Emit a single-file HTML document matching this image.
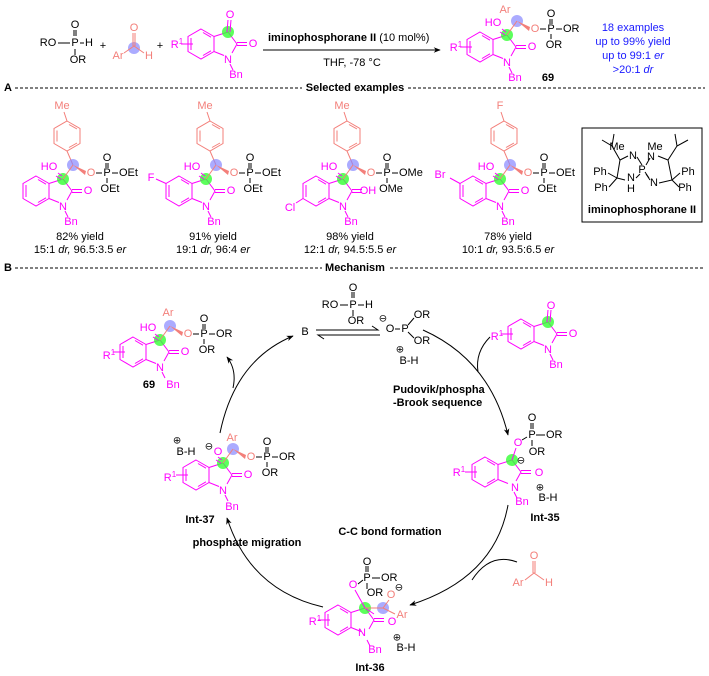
<!DOCTYPE html>
<html><head><meta charset="utf-8"><style>
body{margin:0;background:#fff}
svg{display:block;font-family:"Liberation Sans",sans-serif;font-size:11px}
.k{fill:#000}.m{fill:#f0f}.s{fill:#f37f7a}.bl{fill:#1a1aff}
text{dominant-baseline:central}
.b{font-weight:bold}
.ml{stroke:#f0f;fill:none;stroke-width:1}
.sl{stroke:#f37f7a;fill:none;stroke-width:1}
.kl{stroke:#000;fill:none;stroke-width:1}
</style></head><body>
<svg width="709" height="676" viewBox="0 0 709 676">
<defs>
<marker id="ah" viewBox="0 0 10 10" refX="9" refY="5" markerWidth="7" markerHeight="7" orient="auto"><path d="M0,1 L10,5 L0,9 L3,5 Z" fill="#000"/></marker>
<g id="ox">
<path class="ml" d="M0,-15 L13,-7.5 L13,7.5 L0,15 L-13,7.5 L-13,-7.5 Z M-10,-6 L-10,6 M2,-11.5 L10,-6.8 M10,6.8 L2,11.5 M13,-7.5 L27,-12 L36,0 L31,9 M23,11.5 L13,7.5 M36,-1.5 L46,-1.5 M36,1.5 L46,1.5 M29,20 L32,26"/>
</g>
<g id="ar">
<path class="sl" d="M31,-70 L44,-62.5 L44,-47.5 L31,-40 L18,-47.5 L18,-62.5 Z M21,-60.5 L21,-49.5 M33,-66.5 L41,-62 M41,-48 L33,-43.5 M31,-40 L37,-26 M31,-70 L28,-79"/>
</g>
<g id="phos">
<circle cx="27" cy="-12" r="6" fill="#3f3" opacity=".8"/>
<circle cx="37" cy="-26" r="6" fill="#88f" opacity=".7"/>
<path class="kl" d="M60,-18 L66,-18 M76,-18 L82,-18 M70,-28 L70,-23 M72,-28 L72,-23 M71,-13 L71,-8"/>
<path class="sl" d="M27,-12 L37,-26"/>
<polygon points="37,-26 50,-20 49,-16" fill="#f37f7a"/>
<path class="ml" d="M26,-15 L22,-18 M25,-12 L20,-15" />
</g>
</defs>

<!-- TOP REACTION -->
<g>
<text class="k" x="48" y="43" text-anchor="middle">RO</text>
<path class="kl" d="M58,43 L70,43 M80,43 L84,43 M74,30 L74,36 M76,30 L76,36 M75,49 L75,55"/>
<text class="k" x="75" y="43" text-anchor="middle">P</text>
<text class="k" x="89" y="43" text-anchor="middle">H</text>
<text class="k" x="75" y="25" text-anchor="middle">O</text>
<text class="k" x="78" y="60" text-anchor="middle">OR</text>
<text class="k" x="103" y="46" text-anchor="middle">+</text>
<circle cx="134" cy="48" r="6" fill="#88f" opacity=".7"/>
<path class="sl" d="M124,53 L134,46 L144,53 M133,46 L133,33 M135,46 L135,33"/>
<text class="s" x="118" y="56" text-anchor="middle">Ar</text>
<text class="s" x="134" y="28" text-anchor="middle">O</text>
<text class="s" x="149" y="56" text-anchor="middle">H</text>
<text class="k" x="160" y="46" text-anchor="middle">+</text>
<g transform="translate(201,44)">
<use href="#ox"/>
<circle cx="27" cy="-12" r="6" fill="#3f3" opacity=".8"/>
<path class="ml" d="M26,-12 L27,-24 M29,-12 L30,-24 M-20,0 L-8,0"/>
<text class="m" x="29" y="-29" text-anchor="middle">O</text>
<text class="m" x="52" y="0" text-anchor="middle">O</text>
<text class="m" x="27" y="16" text-anchor="middle">N</text>
<text class="m" x="35" y="31" text-anchor="middle">Bn</text>
<text class="m" x="-24" y="1" text-anchor="middle">R<tspan font-size="8" dy="-4">1</tspan></text>
</g>
<line x1="263" y1="50" x2="440" y2="50" stroke="#000" marker-end="url(#ah)"/>
<text x="268" y="38" class="k"><tspan class="b">iminophosphorane II</tspan> (10 mol%)</text>
<text x="352" y="63" class="k" text-anchor="middle">THF, -78 °C</text>
<g transform="translate(480,47)">
<use href="#ox"/><use href="#phos"/>
<path class="ml" d="M-20,0 L-8,0"/>
<text class="m" x="52" y="0" text-anchor="middle">O</text>
<text class="m" x="27" y="16" text-anchor="middle">N</text>
<text class="m" x="35" y="31" text-anchor="middle">Bn</text>
<text class="m" x="-24" y="1" text-anchor="middle">R<tspan font-size="8" dy="-4">1</tspan></text>
<text class="m" x="13" y="-24" text-anchor="middle">HO</text>
<text class="s" x="25" y="-37" text-anchor="middle">Ar</text>
<text class="s" x="55" y="-18" text-anchor="middle">O</text>
<text class="k" x="71" y="-18" text-anchor="middle">P</text>
<text class="k" x="71" y="-33" text-anchor="middle">O</text>
<text class="k" x="83" y="-18">OR</text>
<text class="k" x="74" y="-2" text-anchor="middle">OR</text>
<text class="k b" x="68" y="31" text-anchor="middle">69</text>
</g>
<text class="bl" x="633" y="28" text-anchor="middle">18 examples</text>
<text class="bl" x="633" y="42" text-anchor="middle">up to 99% yield</text>
<text class="bl" x="633" y="56" text-anchor="middle">up to 99:1 <tspan font-style="italic">er</tspan></text>
<text class="bl" x="633" y="70" text-anchor="middle">&gt;20:1 <tspan font-style="italic">dr</tspan></text>
</g>

<!-- SECTION A -->
<text class="k b" x="4" y="88">A</text>
<line x1="15" y1="88" x2="302" y2="88" stroke="#000" stroke-dasharray="3,2"/>
<text class="k b" x="355" y="88" text-anchor="middle">Selected examples</text>
<line x1="408" y1="88" x2="705" y2="88" stroke="#000" stroke-dasharray="3,2"/>

<g transform="translate(36,191)">
<use href="#ox"/><use href="#ar"/><use href="#phos"/>
<text class="s" x="26" y="-85" text-anchor="middle">Me</text>
<text class="m" x="52" y="0" text-anchor="middle">O</text><text class="m" x="27" y="16" text-anchor="middle">N</text><text class="m" x="35" y="31" text-anchor="middle">Bn</text>
<text class="m" x="13" y="-24" text-anchor="middle">HO</text>
<text class="s" x="55" y="-18" text-anchor="middle">O</text><text class="k" x="71" y="-18" text-anchor="middle">P</text><text class="k" x="71" y="-33" text-anchor="middle">O</text>
<text class="k" x="83" y="-18">OEt</text><text class="k" x="74" y="-2" text-anchor="middle">OEt</text>
</g>
<text class="k" x="80" y="237" text-anchor="middle">82% yield</text>
<text class="k" x="80" y="250" text-anchor="middle">15:1 <tspan font-style="italic">dr,</tspan> 96.5:3.5 <tspan font-style="italic">er</tspan></text>

<g transform="translate(179,191)">
<use href="#ox"/><use href="#ar"/><use href="#phos"/>
<path class="ml" d="M-13,-7.5 L-23,-12"/>
<text class="m" x="-28" y="-13" text-anchor="middle">F</text>
<text class="s" x="26" y="-85" text-anchor="middle">Me</text>
<text class="m" x="52" y="0" text-anchor="middle">O</text><text class="m" x="27" y="16" text-anchor="middle">N</text><text class="m" x="35" y="31" text-anchor="middle">Bn</text>
<text class="m" x="13" y="-24" text-anchor="middle">HO</text>
<text class="s" x="55" y="-18" text-anchor="middle">O</text><text class="k" x="71" y="-18" text-anchor="middle">P</text><text class="k" x="71" y="-33" text-anchor="middle">O</text>
<text class="k" x="83" y="-18">OEt</text><text class="k" x="74" y="-2" text-anchor="middle">OEt</text>
</g>
<text class="k" x="213" y="237" text-anchor="middle">91% yield</text>
<text class="k" x="213" y="250" text-anchor="middle">19:1 <tspan font-style="italic">dr,</tspan> 96:4 <tspan font-style="italic">er</tspan></text>

<g transform="translate(316,191)">
<use href="#ox"/><use href="#ar"/><use href="#phos"/>
<path class="ml" d="M-13,7.5 L-20,12"/>
<text class="m" x="-26" y="17" text-anchor="middle">Cl</text>
<text class="s" x="26" y="-85" text-anchor="middle">Me</text>
<text class="m" x="52" y="0" text-anchor="middle">OH</text><text class="m" x="27" y="16" text-anchor="middle">N</text><text class="m" x="35" y="31" text-anchor="middle">Bn</text>
<text class="m" x="13" y="-24" text-anchor="middle">HO</text>
<text class="s" x="55" y="-18" text-anchor="middle">O</text><text class="k" x="71" y="-18" text-anchor="middle">P</text><text class="k" x="71" y="-33" text-anchor="middle">O</text>
<text class="k" x="83" y="-18">OMe</text><text class="k" x="75" y="-2" text-anchor="middle">OMe</text>
</g>
<text class="k" x="350" y="237" text-anchor="middle">98% yield</text>
<text class="k" x="350" y="250" text-anchor="middle">12:1 <tspan font-style="italic">dr,</tspan> 94.5:5.5 <tspan font-style="italic">er</tspan></text>

<g transform="translate(473,191)">
<use href="#ox"/><use href="#ar"/><use href="#phos"/>
<path class="ml" d="M-13,-7.5 L-23,-13"/>
<text class="m" x="-33" y="-16" text-anchor="middle">Br</text>
<text class="s" x="27" y="-85" text-anchor="middle">F</text>
<text class="m" x="52" y="0" text-anchor="middle">O</text><text class="m" x="27" y="16" text-anchor="middle">N</text><text class="m" x="35" y="31" text-anchor="middle">Bn</text>
<text class="m" x="13" y="-24" text-anchor="middle">HO</text>
<text class="s" x="55" y="-18" text-anchor="middle">O</text><text class="k" x="71" y="-18" text-anchor="middle">P</text><text class="k" x="71" y="-33" text-anchor="middle">O</text>
<text class="k" x="83" y="-18">OEt</text><text class="k" x="74" y="-2" text-anchor="middle">OEt</text>
</g>
<text class="k" x="508" y="237" text-anchor="middle">78% yield</text>
<text class="k" x="508" y="250" text-anchor="middle">10:1 <tspan font-style="italic">dr,</tspan> 93.5:6.5 <tspan font-style="italic">er</tspan></text>

<!-- catalyst box -->
<rect x="582" y="128" width="120" height="94" fill="none" stroke="#000"/>
<path class="kl" d="M620,160 L628,156 M637,157 L642,165 M646,165 L650,158 M658,156 L668,160 M620,160 L612,146 L602,140 M612,146 L614,134 M668,160 L677,146 L688,140 M677,146 L675,134 M620,160 L617,178 L625,180 M617,178 L608,173 M617,178 L609,187 M636,178 L640,174 M646,174 L650,180 M645,172 L649,178 M659,183 L672,180 L668,160 M672,180 L680,173 M672,180 L679,187"/>
<text class="k" x="617" y="147" text-anchor="middle">Me</text>
<text class="k" x="655" y="147" text-anchor="middle">Me</text>
<text class="k" x="633" y="156" text-anchor="middle">N</text>
<text class="k" x="651" y="157" text-anchor="middle">N</text>
<text class="k" x="642" y="170" text-anchor="middle">P</text>
<text class="k" x="631" y="178" text-anchor="middle">N</text>
<text class="k" x="631" y="189" text-anchor="middle">H</text>
<text class="k" x="654" y="183" text-anchor="middle">N</text>
<text class="k" x="600" y="172" text-anchor="middle">Ph</text>
<text class="k" x="601" y="188" text-anchor="middle">Ph</text>
<text class="k" x="688" y="172" text-anchor="middle">Ph</text>
<text class="k" x="685" y="188" text-anchor="middle">Ph</text>
<text class="k b" x="642" y="210" text-anchor="middle">iminophosphorane II</text>

<!-- SECTION B -->
<text class="k b" x="4" y="268">B</text>
<line x1="15" y1="268" x2="322" y2="268" stroke="#000" stroke-dasharray="3,2"/>
<text class="k b" x="355" y="268" text-anchor="middle">Mechanism</text>
<line x1="390" y1="268" x2="705" y2="268" stroke="#000" stroke-dasharray="3,2"/>

<!-- 69 mech -->
<g transform="translate(133,352)">
<use href="#ox"/><use href="#phos"/>
<path class="ml" d="M-20,0 L-8,0"/>
<text class="m" x="52" y="0" text-anchor="middle">O</text><text class="m" x="27" y="16" text-anchor="middle">N</text><text class="m" x="40" y="33" text-anchor="middle">Bn</text>
<text class="m" x="-24" y="4" text-anchor="middle">R<tspan font-size="8" dy="-4">1</tspan></text>
<text class="m" x="15" y="-24" text-anchor="middle">HO</text>
<text class="s" x="35" y="-39" text-anchor="middle">Ar</text>
<text class="s" x="55" y="-18" text-anchor="middle">O</text><text class="k" x="71" y="-18" text-anchor="middle">P</text><text class="k" x="71" y="-33" text-anchor="middle">O</text>
<text class="k" x="83" y="-18">OR</text><text class="k" x="74" y="-2" text-anchor="middle">OR</text>
<text class="k b" x="16" y="33" text-anchor="middle">69</text>
</g>

<!-- B equilibrium -->
<text class="k" x="305" y="332" text-anchor="middle">B</text>
<path class="kl" d="M316,330 L378,330 L372,326 M380,335 L318,335 L324,339"/>
<text class="k" x="330" y="305" text-anchor="middle">RO</text>
<path class="kl" d="M340,305 L348,305 M358,305 L364,305 M352,292 L352,298 M354,292 L354,298 M353,310 L353,316"/>
<text class="k" x="353" y="305" text-anchor="middle">P</text>
<text class="k" x="369" y="305" text-anchor="middle">H</text>
<text class="k" x="353" y="288" text-anchor="middle">O</text>
<text class="k" x="356" y="321" text-anchor="middle">OR</text>
<text class="k" x="383" y="319" text-anchor="middle" font-size="10">⊖</text>
<text class="k" x="390" y="329" text-anchor="middle">O</text>
<path class="kl" d="M395,329 L400,329 M408,325 L414,318 M408,332 L414,338"/>
<text class="k" x="405" y="329" text-anchor="middle">P</text>
<text class="k" x="422" y="315" text-anchor="middle">OR</text>
<text class="k" x="422" y="341" text-anchor="middle">OR</text>
<text class="k" x="400" y="350" text-anchor="middle" font-size="10">⊕</text>
<text class="k" x="409" y="361" text-anchor="middle">B-H</text>
<text class="k b" x="393" y="390">Pudovik/phospha</text>
<text class="k b" x="393" y="403">-Brook sequence</text>

<!-- isatin mech -->
<g transform="translate(521,334)">
<use href="#ox"/>
<circle cx="27" cy="-12" r="6" fill="#3f3" opacity=".8"/>
<path class="ml" d="M26,-12 L27,-24 M29,-12 L30,-24 M-20,0 L-8,0"/>
<text class="m" x="30" y="-28" text-anchor="middle">O</text>
<text class="m" x="52" y="0" text-anchor="middle">O</text>
<text class="m" x="27" y="16" text-anchor="middle">N</text>
<text class="m" x="35" y="31" text-anchor="middle">Bn</text>
<text class="m" x="-24" y="3" text-anchor="middle">R<tspan font-size="8" dy="-4">1</tspan></text>
</g>

<!-- Int-35 -->
<g transform="translate(485,472)">
<use href="#ox"/>
<circle cx="27" cy="-12" r="6" fill="#3f3" opacity=".8"/>
<path class="ml" d="M-20,0 L-8,0 M27,-12 L31,-24"/>
<path class="kl" d="M37,-32 L42,-35 M51,-37 L60,-37 M46,-49 L46,-43 M48,-49 L48,-43 M47,-32 L47,-26"/>
<text class="m" x="33" y="-29" text-anchor="middle">O</text>
<text class="k" x="47" y="-37" text-anchor="middle">P</text>
<text class="k" x="47" y="-54" text-anchor="middle">O</text>
<text class="k" x="61" y="-37">OR</text>
<text class="k" x="52" y="-20" text-anchor="middle">OR</text>
<text class="k" x="36" y="-11" text-anchor="middle" font-size="10">⊖</text>
<text class="m" x="54" y="1" text-anchor="middle">O</text>
<text class="m" x="30" y="16" text-anchor="middle">N</text>
<text class="m" x="37" y="30" text-anchor="middle">Bn</text>
<text class="m" x="-26" y="1" text-anchor="middle">R<tspan font-size="8" dy="-4">1</tspan></text>
<text class="k" x="55" y="16" text-anchor="middle" font-size="10">⊕</text>
<text class="k" x="63" y="26" text-anchor="middle">B-H</text>
<text class="k b" x="60" y="46" text-anchor="middle">Int-35</text>
</g>

<!-- aldehyde -->
<path class="sl" d="M525,580 L534,573 L544,580 M533,573 L533,561 M535,573 L535,561"/>
<text class="s" x="518" y="583" text-anchor="middle">Ar</text>
<text class="s" x="534" y="556" text-anchor="middle">O</text>
<text class="s" x="549" y="583" text-anchor="middle">H</text>
<text class="k b" x="390" y="532" text-anchor="middle">C-C bond formation</text>
<text class="k b" x="247" y="543" text-anchor="middle">phosphate migration</text>

<!-- Int-36 -->
<g transform="translate(338,620)">
<use href="#ox"/>
<circle cx="27" cy="-12" r="6" fill="#3f3" opacity=".8"/>
<circle cx="45" cy="-12" r="6" fill="#88f" opacity=".7"/>
<path class="ml" d="M-20,0 L-8,0 M27,-12 L17,-30 M27,-12 L36,-6"/>
<path class="sl" d="M27,-12 L45,-12 L51,-20 M45,-12 L57,-6"/>
<path class="kl" d="M20,-36 L25,-40 M34,-42 L42,-42 M28,-54 L28,-48 M30,-54 L30,-48 M29,-37 L29,-31"/>
<text class="m" x="15" y="-35" text-anchor="middle">O</text>
<text class="k" x="29" y="-42" text-anchor="middle">P</text>
<text class="k" x="29" y="-58" text-anchor="middle">O</text>
<text class="k" x="43" y="-42">OR</text>
<text class="k" x="37" y="-27" text-anchor="middle">OR</text>
<text class="s" x="53" y="-25" text-anchor="middle">O</text>
<text class="k" x="61" y="-32" text-anchor="middle" font-size="10">⊖</text>
<text class="s" x="64" y="-5" text-anchor="middle">Ar</text>
<text class="m" x="54" y="2" text-anchor="middle">O</text>
<text class="m" x="24" y="13" text-anchor="middle">N</text>
<text class="m" x="37" y="30" text-anchor="middle">Bn</text>
<text class="m" x="-23" y="2" text-anchor="middle">R<tspan font-size="8" dy="-4">1</tspan></text>
<text class="k" x="59" y="18" text-anchor="middle" font-size="10">⊕</text>
<text class="k" x="68" y="28" text-anchor="middle">B-H</text>
<text class="k b" x="32" y="48" text-anchor="middle">Int-36</text>
</g>

<!-- Int-37 -->
<g transform="translate(196,475)">
<use href="#ox"/><use href="#phos"/>
<path class="ml" d="M-20,0 L-8,0"/>
<text class="m" x="22" y="-23" text-anchor="middle">O</text>
<text class="k" x="13" y="-28" text-anchor="middle" font-size="10">⊖</text>
<text class="k" x="-19" y="-34" text-anchor="middle" font-size="10">⊕</text>
<text class="k" x="-10" y="-23" text-anchor="middle">B-H</text>
<text class="s" x="36" y="-37" text-anchor="middle">Ar</text>
<text class="s" x="55" y="-18" text-anchor="middle">O</text><text class="k" x="71" y="-18" text-anchor="middle">P</text><text class="k" x="71" y="-33" text-anchor="middle">O</text>
<text class="k" x="83" y="-18">OR</text><text class="k" x="74" y="-2" text-anchor="middle">OR</text>
<text class="m" x="52" y="0" text-anchor="middle">O</text>
<text class="m" x="27" y="16" text-anchor="middle">N</text>
<text class="m" x="36" y="32" text-anchor="middle">Bn</text>
<text class="m" x="-26" y="3" text-anchor="middle">R<tspan font-size="8" dy="-4">1</tspan></text>
<text class="k b" x="4" y="45" text-anchor="middle">Int-37</text>
</g>

<!-- cycle arrows -->
<g fill="none" stroke="#000" stroke-width="1">
<path d="M220,433 Q235,360 293,336" marker-end="url(#ah)"/>
<path d="M233,388 Q237,370 227,357" marker-end="url(#ah)"/>
<path d="M423,330 Q490,360 508,435" marker-end="url(#ah)"/>
<path d="M490,337 Q475,352 478,372"/>
<path d="M508,505 Q495,578 410,605" marker-end="url(#ah)"/>
<path d="M517,562 Q490,552 472,580"/>
<path d="M323,607 Q250,590 227,518" marker-end="url(#ah)"/>
</g>
</svg>
</body></html>
